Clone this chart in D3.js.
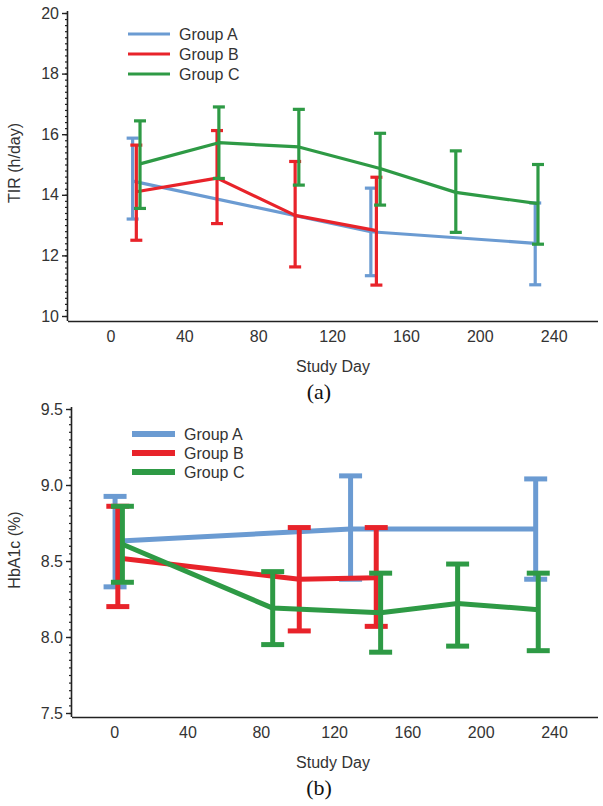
<!DOCTYPE html>
<html><head><meta charset="utf-8">
<script src="https://cdn.jsdelivr.net/npm/d3@7"></script>
<style>body{margin:0;background:#fff;} svg{display:block;font-family:"Liberation Sans",Arial,sans-serif;}</style>
</head><body><div id="chart"></div>
<script>
// ---------- Data ----------
const groups = ["Group A", "Group B", "Group C"];
const colors = ["#6b9bd2", "#e8232a", "#2e9a45"];
const xTicks = [0, 40, 80, 120, 160, 200, 240];

// Panel (a): TIR (h/day)
const tirDays  = [[12, 141, 230], [14, 57.7, 100, 144], [16, 58.7, 102, 146, 187, 231.5]];
const tirMean  = [[14.45, 12.78, 12.4], [14.1, 14.55, 13.32, 12.82], [15.02, 15.72, 15.58, 14.87, 14.08, 13.71]];
const tirUpper = [[15.87, 14.22, 13.73], [15.64, 16.12, 15.1, 14.58], [16.44, 16.9, 16.82, 16.03, 15.45, 15.0]];
const tirLower = [[13.2, 11.33, 11.03], [12.5, 13.05, 11.62, 11.02], [13.55, 14.54, 14.32, 13.66, 12.76, 12.37]];
const tirTicks = [10, 12, 14, 16, 18, 20];

// Panel (b): HbA1c (%)
const hbDays  = [[0.5, 129, 230], [2, 101, 143], [4.5, 86.5, 145.4, 187.4, 231.4]];
const hbMean  = [[8.63, 8.71, 8.71], [8.52, 8.38, 8.39], [8.61, 8.19, 8.16, 8.22, 8.18]];
const hbUpper = [[8.925, 9.06, 9.04], [8.86, 8.72, 8.72], [8.86, 8.43, 8.42, 8.48, 8.42]];
const hbLower = [[8.33, 8.38, 8.38], [8.2, 8.04, 8.07], [8.36, 7.95, 7.9, 7.94, 7.91]];
const hbTicks = [7.5, 8.0, 8.5, 9.0, 9.5];

const W = 603, H = 806;
const FS = 16;
const svg = d3.select("#chart").append("svg").attr("width", W).attr("height", H);

function panel(cfg) {
  const x = d3.scaleLinear().domain([-23, 264]).range([cfg.left, 598]);
  const y = d3.scaleLinear().domain(cfg.yDomain).range([cfg.bottom, cfg.top]);
  const g = svg.append("g");

  // minor ticks
  const minor = d3.range(cfg.yDomain[0], cfg.yDomain[1] + 1e-9, cfg.minorStep);
  g.append("g").attr("transform", `translate(${cfg.left},0)`)
    .call(d3.axisLeft(y).tickValues(minor).tickSize(3).tickFormat(""))
    .call(a => a.select(".domain").remove())
    .call(a => a.selectAll("line").attr("stroke", "#222").attr("stroke-width", 1.2));
  // major y axis
  const ya = g.append("g").attr("transform", `translate(${cfg.left},0)`)
    .call(d3.axisLeft(y).tickValues(cfg.yTicks).tickSize(6).tickPadding(3).tickFormat(cfg.fmt));
  ya.select(".domain").attr("d", `M-0.5,${cfg.bottom + cfg.axisExt}V${cfg.top - 2}`).attr("stroke", "#222").attr("stroke-width", 1.6);
  ya.selectAll("line").attr("stroke", "#222").attr("stroke-width", 1.4);
  ya.selectAll("text").attr("font-size", FS).attr("fill", "#333")
    .attr("font-family", "'Liberation Sans',Arial,sans-serif");

  // x axis
  const xa = g.append("g").attr("transform", `translate(0,${cfg.xAxisY})`)
    .call(d3.axisBottom(x).tickValues(xTicks).tickSize(0).tickPadding(10));
  xa.select(".domain").attr("d", `M${cfg.left},0.5H598`).attr("stroke", "#222").attr("stroke-width", 1.6);
  xa.selectAll("text").attr("font-size", FS).attr("fill", "#333")
    .attr("font-family", "'Liberation Sans',Arial,sans-serif");

  // labels
  g.append("text").attr("transform", `translate(${cfg.yLabX},${cfg.yLabY}) rotate(-90)`)
    .attr("text-anchor", "middle").attr("font-size", FS).attr("fill", "#333").text(cfg.yLabel);
  g.append("text").attr("x", 333).attr("y", cfg.xLabY).attr("text-anchor", "middle")
    .attr("font-size", FS).attr("fill", "#333").text("Study Day");
  g.append("text").attr("x", 319).attr("y", cfg.capY).attr("text-anchor", "middle")
    .attr("font-size", 22).attr("fill", "#111")
    .attr("font-family", "'Liberation Serif','Times New Roman',serif").text(cfg.caption);

  // series
  const line = d3.line().x(d => x(d.day)).y(d => y(d.mean));
  groups.forEach((name, i) => {
    const pts = cfg.days[i].map((d, j) => ({day: d, mean: cfg.mean[i][j], up: cfg.upper[i][j], lo: cfg.lower[i][j]}));
    const sg = g.append("g");
    sg.append("path").datum(pts).attr("d", line).attr("fill", "none")
      .attr("stroke", colors[i]).attr("stroke-width", cfg.lw).attr("stroke-linejoin", "round");
    const eb = sg.selectAll("g.eb").data(pts).join("g");
    eb.append("line").attr("x1", d => x(d.day)).attr("x2", d => x(d.day))
      .attr("y1", d => y(d.up)).attr("y2", d => y(d.lo))
      .attr("stroke", colors[i]).attr("stroke-width", cfg.ew);
    ["up", "lo"].forEach(k => {
      eb.append("line").attr("x1", d => x(d.day) - cfg.cap / 2).attr("x2", d => x(d.day) + cfg.cap / 2)
        .attr("y1", d => y(d[k])).attr("y2", d => y(d[k]))
        .attr("stroke", colors[i]).attr("stroke-width", cfg.ew);
    });
  });

  // legend
  groups.forEach((name, i) => {
    const ly = cfg.legY + i * cfg.legGap;
    g.append("line").attr("x1", cfg.legX).attr("x2", cfg.legX + cfg.legLen).attr("y1", ly).attr("y2", ly)
      .attr("stroke", colors[i]).attr("stroke-width", cfg.legW);
    g.append("text").attr("x", cfg.legX + cfg.legLen + 9).attr("y", ly).attr("dy", "0.35em")
      .attr("font-size", FS).attr("fill", "#333").text(name);
  });
}

panel({
  left: 68, top: 13, bottom: 316, xAxisY: 321, axisExt: 5, yDomain: [10, 20], yTicks: tirTicks, minorStep: 0.2,
  fmt: d3.format("d"), yLabel: "TIR (h/day)", yLabX: 20, yLabY: 163, xLabY: 372, capY: 399, caption: "(a)",
  days: tirDays, mean: tirMean, upper: tirUpper, lower: tirLower,
  lw: 3.2, ew: 3.2, cap: 12, legX: 128, legLen: 42, legY: 34, legGap: 20, legW: 3.2
});

panel({
  left: 72, top: 409, bottom: 713, xAxisY: 717, axisExt: 4, yDomain: [7.5, 9.5], yTicks: hbTicks, minorStep: 0.05,
  fmt: d3.format(".1f"), yLabel: "HbA1c (%)", yLabX: 20, yLabY: 550, xLabY: 768, capY: 795, caption: "(b)",
  days: hbDays, mean: hbMean, upper: hbUpper, lower: hbLower,
  lw: 5, ew: 5, cap: 23, legX: 132, legLen: 43, legY: 434, legGap: 19, legW: 6
});
</script></body></html>
